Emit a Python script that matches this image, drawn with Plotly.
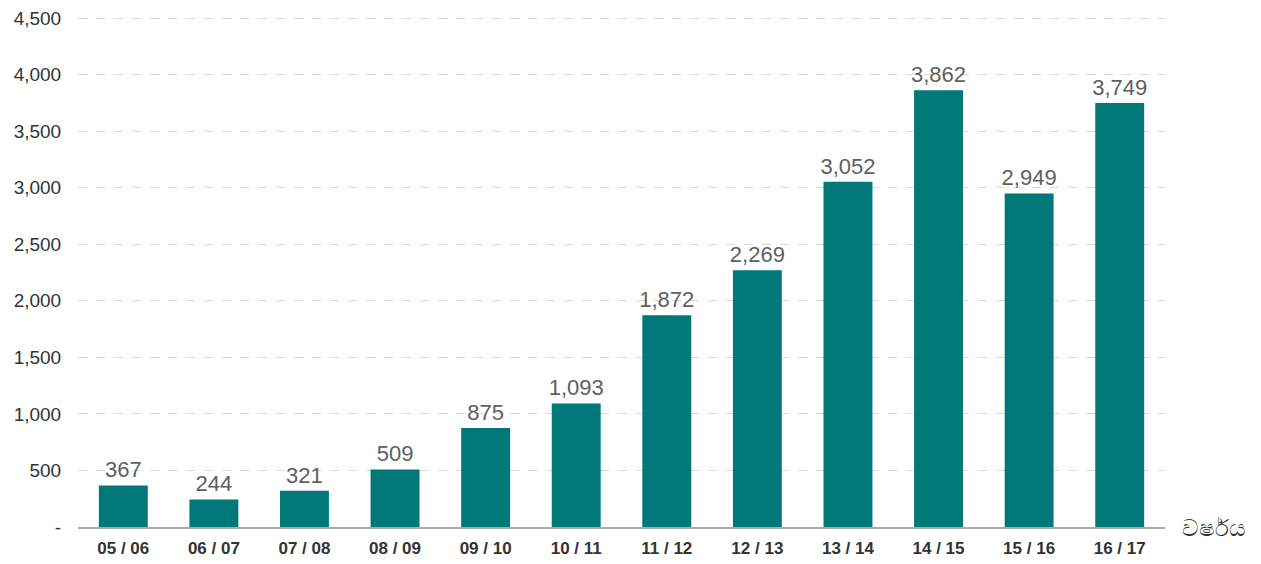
import plotly.graph_objects as go

categories = ["05 / 06", "06 / 07", "07 / 08", "08 / 09", "09 / 10", "10 / 11",
              "11 / 12", "12 / 13", "13 / 14", "14 / 15", "15 / 16", "16 / 17"]
values = [367, 244, 321, 509, 875, 1093, 1872, 2269, 3052, 3862, 2949, 3749]
y_ticks = [0, 500, 1000, 1500, 2000, 2500, 3000, 3500, 4000, 4500]
y_ticktext = ["-", "500", "1,000", "1,500", "2,000", "2,500", "3,000", "3,500", "4,000", "4,500"]
axis_title = "වර්ෂය"

fig = go.Figure(go.Bar(
    x=categories, y=values,
    marker=dict(color="#00787A", line=dict(width=0)),
    text=[f"{v:,}" for v in values],
    textposition="outside",
    constraintext="none",
    textfont=dict(family="Liberation Sans", size=22, color="#606060"),
    cliponaxis=False,
    hoverinfo="skip",
))

fig.update_layout(
    width=1261, height=564,
    margin=dict(l=78, r=96, t=16, b=37),
    plot_bgcolor="white", paper_bgcolor="white",
    bargap=0.46,
    showlegend=False,
    xaxis=dict(
        automargin=False,
        showgrid=False, showline=True, linecolor="#aaaaaa", linewidth=2,
        tickfont=dict(family="Liberation Sans", size=17, color="#333333", weight="bold"),
        ticks="outside", ticklen=5, tickcolor="white",
    ),
    yaxis=dict(
        automargin=False,
        range=[0, 4518], tickvals=y_ticks, ticktext=y_ticktext,
        showgrid=True, gridcolor="#d9d9d9", griddash="dash", gridwidth=1,
        zeroline=False, showline=False,
        tickfont=dict(family="Liberation Sans", size=19, color="#333333"),
        ticks="outside", ticklen=12, tickcolor="white",
    ),
    annotations=[dict(
        text=axis_title, xref="paper", yref="paper", x=1.014, y=0,
        xanchor="left", yanchor="middle", showarrow=False,
        font=dict(family="Noto Sans, DejaVu Sans", size=23, color="#333333"),
    )],
)

fig.write_html("out.html", config={"displayModeBar": False},
               post_script="document.body.style.margin='0';document.body.style.overflow='hidden';")
